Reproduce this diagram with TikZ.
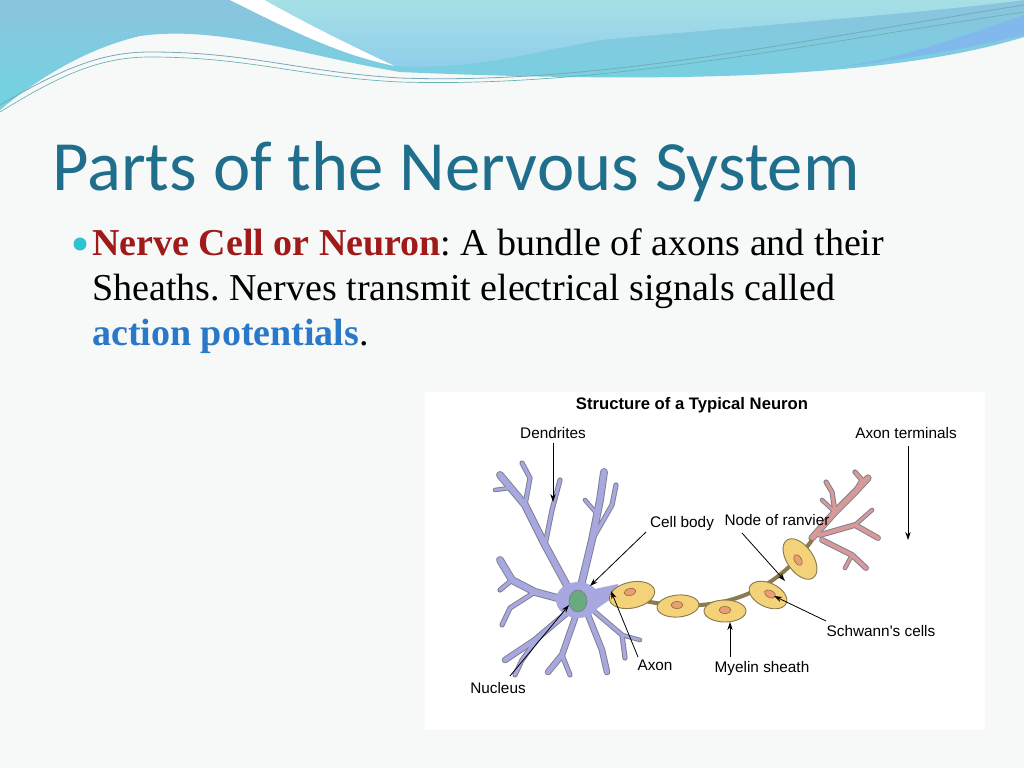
\documentclass[tikz,border=0pt]{standalone}
\usepackage{fontspec}
\setmainfont{Liberation Serif}
\newfontfamily\titlefont{Carlito}
\newfontfamily\lblfont{Liberation Sans}
\definecolor{pagebg}{HTML}{F7F8F8}
\definecolor{titleblue}{HTML}{1F6E8C}
\definecolor{darkred}{HTML}{A01A1A}
\definecolor{linkblue}{HTML}{2A78C8}
\definecolor{bullet}{HTML}{2CC3D3}
\definecolor{wave1}{HTML}{8BC4DE}
\definecolor{wave2}{HTML}{70D4E0}
\definecolor{wave3}{HTML}{A6E0E6}
\definecolor{wave4}{HTML}{8FCDEB}
\definecolor{dend}{HTML}{A8A8E0}
\definecolor{dendout}{HTML}{7E7E8E}
\definecolor{myelin}{HTML}{F3D27A}
\definecolor{myelinout}{HTML}{8A7A50}
\definecolor{nuc}{HTML}{6AAA80}
\definecolor{term}{HTML}{D89A98}
\definecolor{schw}{HTML}{E8A070}
\usetikzlibrary{arrows.meta}
\tikzset{
 lbl/.style={font=\lblfont\fontsize{11.5}{13}\selectfont, inner sep=1pt},
 pointer/.style={-{Stealth[length=6pt,width=4pt]}, line width=0.6pt},
 dout/.style={draw=dendout, line width=#1+1.4pt, line cap=round, line join=round},
 din/.style={draw=dend, line width=#1, line cap=round, line join=round},
 tout/.style={draw=dendout, line width=#1+1.4pt, line cap=round, line join=round},
 tin/.style={draw=term, line width=#1, line cap=round, line join=round},
 seg/.style={fill=myelin, draw=myelinout, line width=0.7pt},
 schwc/.style={fill=schw, draw=schw!60!black, line width=0.4pt},
}
\begin{document}
\frenchspacing
\begin{tikzpicture}[x=0.75pt,y=-0.75pt]
\useasboundingbox (0,0) rectangle (1024,768);
\fill[pagebg] (0,0) rectangle (1024,768);
% header waves
\shade[top color=wave1, bottom color=wave2] (0,0) -- (1024,0) -- (1024,37)
  .. controls (900,75) and (700,85) .. (400,72)
  .. controls (300,55) and (220,25) .. (140,36)
  .. controls (80,50) and (30,85) .. (0,110) -- cycle;
\fill[white] (230,0) .. controls (290,30) and (340,55) .. (395,66)
  .. controls (350,45) and (300,20) .. (265,0) -- cycle;
\shade[top color=wave3, bottom color=wave4] (265,0) .. controls (300,20) and (350,45) .. (395,66)
  .. controls (470,70) and (520,55) .. (600,40) .. controls (800,22) and (950,10) .. (1024,0) -- cycle;
\draw[titleblue!60, line width=0.6pt] (0,105) .. controls (60,70) and (100,52) .. (150,52)
  .. controls (250,52) and (300,72) .. (400,78) .. controls (600,85) and (800,40) .. (1024,5);
\draw[teal!60, line width=0.5pt] (0,112) .. controls (60,75) and (100,57) .. (150,57)
  .. controls (250,57) and (300,77) .. (400,82) .. controls (600,88) and (800,45) .. (1024,12);
\fill[wave4!90!blue] (1024,15) .. controls (950,40) and (900,60) .. (830,68) .. controls (920,58) and (980,45) .. (1024,35) -- cycle;
% title
\node[anchor=base west, text=titleblue, font=\titlefont\fontsize{53}{60}\selectfont, inner sep=0] (title) at (52,190) {Parts of the Nervous System};
\fill[bullet] (80,244) circle (6.5);
\node[anchor=base west, inner sep=0, font=\fontsize{28.5}{33}\selectfont] (body) at (92,255)
 {\textbf{\color{darkred}Nerve Cell or Neuron}: A bundle of axons and their};
\node[anchor=base west, inner sep=0, font=\fontsize{28.5}{33}\selectfont] (body2) at (92,300) {Sheaths. Nerves transmit electrical signals called};
\node[anchor=base west, inner sep=0, font=\fontsize{28.5}{33}\selectfont] (body3) at (92,345) {\textbf{\color{linkblue}action potentials}.};
% image box
\fill[white] (425,392) rectangle (985,730);
\node[font=\lblfont\bfseries\fontsize{12.5}{14}\selectfont] (ititle) at (692,405) {Structure of a Typical Neuron};
% dendrites
\foreach \st in {dout,din}{
 \draw[\st=4.5pt] (572,595) -- (545,545) -- (525,505) -- (500,475);
 \draw[\st=2.5pt] (525,505) -- (530,478) -- (522,463);
 \draw[\st=2.5pt] (545,545) -- (552,510) -- (560,480);
 \draw[\st=2pt] (510,488) -- (495,490);
 \draw[\st=4.5pt] (580,590) -- (592,540) -- (600,500) -- (604,472);
 \draw[\st=2.5pt] (592,540) -- (612,505) -- (616,485);
 \draw[\st=2pt] (598,515) -- (585,500);
 \draw[\st=4.5pt] (565,600) -- (535,592) -- (512,580) -- (500,560);
 \draw[\st=2.5pt] (512,580) -- (500,590);
 \draw[\st=2.5pt] (535,592) -- (510,608) -- (502,625);
 \draw[\st=3.5pt] (568,612) -- (535,640) -- (505,660);
 \draw[\st=2.5pt] (540,635) -- (522,660) -- (515,675);
 \draw[\st=3.5pt] (575,618) -- (562,655) -- (548,672);
 \draw[\st=2.5pt] (562,655) -- (570,675);
 \draw[\st=3.5pt] (588,615) -- (602,650) -- (607,672);
 \draw[\st=2.5pt] (595,612) -- (622,635) -- (625,658);
 \draw[\st=2pt] (622,635) -- (640,640);
}
\fill[dend] (578,600) ellipse (22 and 18);
\fill[dend] (590,590) -- (618,584) -- (618,594) -- (592,612) -- cycle;
\fill[nuc, draw=dendout, line width=0.5pt] (578,601) ellipse (9 and 11);
% axon terminals
\foreach \st in {tout,tin}{
 \draw[\st=4pt] (812,538) -- (835,512) -- (855,492) -- (868,478);
 \draw[\st=2.5pt] (835,512) -- (832,492) -- (826,482);
 \draw[\st=2.5pt] (855,492) -- (862,480) -- (855,472);
 \draw[\st=3pt] (820,535) -- (855,525) -- (878,538);
 \draw[\st=2pt] (855,525) -- (872,510);
 \draw[\st=3pt] (822,540) -- (852,555) -- (866,568);
 \draw[\st=2pt] (852,555) -- (845,568);
 \draw[\st=2pt] (835,512) -- (822,500);
}
% myelin segments
\draw[myelinout, line width=3pt] (612,592) .. controls (680,615) and (760,615) .. (812,540);
\draw[seg] (632,595) ellipse [x radius=23, y radius=13, rotate=12];
\draw[seg] (678,606) ellipse [x radius=21, y radius=11, rotate=5];
\draw[seg] (725,611) ellipse [x radius=21, y radius=11];
\draw[seg] (768,595) ellipse [x radius=20, y radius=12, rotate=-25];
\draw[seg] (800,559) ellipse [x radius=23, y radius=13, rotate=-55];
\draw[schwc] (630,592) ellipse [x radius=6, y radius=3.5, rotate=12];
\draw[schwc] (677,605) ellipse [x radius=6, y radius=3.5];
\draw[schwc] (725,610) ellipse [x radius=6, y radius=3.5];
\draw[schwc] (770,594) ellipse [x radius=6, y radius=3.5, rotate=-25];
\draw[schwc] (798,560) ellipse [x radius=6, y radius=3.5, rotate=-60];
% labels
\node[lbl] (ldend) at (553,433) {Dendrites};
\node[lbl] (lterm) at (906,433) {Axon terminals};
\node[lbl] (lcell) at (682,524) {Cell body};
\node[lbl] (lnode) at (777,520) {Node of ranvier};
\node[lbl] (lschw) at (881,631) {Schwann's cells};
\node[lbl] (lmyel) at (762,669) {Myelin sheath};
\node[lbl] (laxon) at (655,665) {Axon};
\node[lbl] (lnuc) at (498,688) {Nucleus};
\coordinate (sdend) at (553,443);
\coordinate (sterm) at (908,446);
\coordinate (scell) at (646,532);
\coordinate (snode) at (742,533);
\coordinate (sschw) at (826,621);
\coordinate (smyel) at (730,657);
\coordinate (saxon) at (638,657);
\coordinate (snuc) at (510,676);
\draw[pointer] (sdend) -- (553,502);
\draw[pointer] (sterm) -- (908,540);
\draw[pointer] (scell) -- (590,586);
\draw[pointer] (snode) -- (785,581);
\draw[pointer] (sschw) -- (774,596);
\draw[pointer] (smyel) -- (730,622);
\draw[pointer] (saxon) -- (611,591);
\draw[pointer] (snuc) -- (569,605);
\end{tikzpicture}
\end{document}
